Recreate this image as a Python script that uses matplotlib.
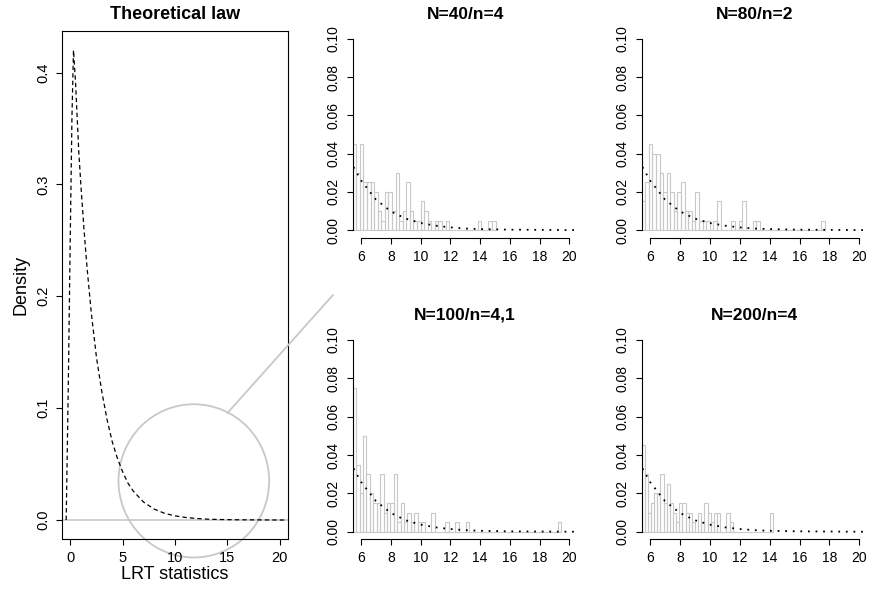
import numpy as np
import matplotlib
matplotlib.use("Agg")
import matplotlib.pyplot as plt
from matplotlib.patches import Ellipse, ConnectionPatch

plt.rcParams['font.family'] = ['Liberation Sans', 'DejaVu Sans']

# theoretical density
law_x = [-0.4, -0.2, 0.0, 0.15, 0.3, 0.5, 0.8, 1.0, 1.3, 1.6, 2.0, 2.5, 3.0, 3.5,
         4.0, 4.5, 5.0, 5.5, 6.0, 7.0, 8.0, 9.0, 10.0, 11.0, 12.0, 13.0, 14.0,
         16.0, 18.0, 20.0, 20.5]
law_y = [0.0, 0.12, 0.26, 0.36, 0.42, 0.39, 0.33, 0.30, 0.26, 0.225, 0.185, 0.145,
         0.115, 0.09, 0.07, 0.055, 0.043, 0.033, 0.026, 0.016, 0.0098, 0.006,
         0.0037, 0.0023, 0.0014, 0.0008, 0.0005, 0.0002, 0.0001, 0.0, 0.0]

# simulated LRT histograms (density per bin, bins start at 5.44)
titles = ["N=40/n=4", "N=80/n=2", "N=100/n=4,1", "N=200/n=4"]
bin_width = [0.24, 0.24, 0.23, 0.21]
h_n40 = [0.045, 0.03, 0.045, 0.025, 0.025, 0.025, 0.02, 0.01, 0.005, 0.02,
         0.02, 0.01, 0.03, 0.005, 0.01, 0.025, 0.01, 0.005, 0.005, 0.015,
         0.01, 0.005, 0.0, 0.005, 0.005, 0.0, 0.005, 0.0, 0.0, 0.0,
         0.0, 0.0, 0.0, 0.0, 0.0, 0.005, 0.0, 0.0, 0.005, 0.005]
h_n80 = [0.015, 0.025, 0.045, 0.04, 0.04, 0.03, 0.02, 0.03, 0.02, 0.01,
         0.02, 0.025, 0.01, 0.01, 0.005, 0.02, 0.005, 0.005, 0.005, 0.0,
         0.005, 0.015, 0.0, 0.0, 0.0, 0.005, 0.0, 0.005, 0.015, 0.0,
         0.0, 0.005, 0.005, 0.0, 0.0, 0.0, 0.0, 0.0, 0.0, 0.0,
         0.0, 0.0, 0.0, 0.0, 0.0, 0.0, 0.0, 0.0, 0.0, 0.0, 0.005]
h_n100 = [0.075, 0.035, 0.02, 0.05, 0.03, 0.02, 0.015, 0.015, 0.03, 0.01,
          0.015, 0.015, 0.03, 0.005, 0.015, 0.005, 0.01, 0.005, 0.01, 0.005,
          0.005, 0.0, 0.0, 0.01, 0.0, 0.0, 0.0, 0.005, 0.0, 0.0,
          0.005, 0.0, 0.0, 0.005, 0.0, 0.0, 0.0, 0.0, 0.0, 0.0,
          0.0, 0.0, 0.0, 0.0, 0.0, 0.0, 0.0, 0.0, 0.0, 0.0,
          0.0, 0.0, 0.0, 0.0, 0.0, 0.0, 0.0, 0.0, 0.0, 0.0, 0.005]
h_n200 = [0.045, 0.03, 0.01, 0.015, 0.02, 0.02, 0.03, 0.015, 0.025, 0.015,
          0.01, 0.005, 0.015, 0.015, 0.01, 0.01, 0.005, 0.0, 0.01, 0.005,
          0.015, 0.01, 0.005, 0.01, 0.01, 0.0, 0.0, 0.01, 0.005, 0.0,
          0.0, 0.0, 0.0, 0.0, 0.0, 0.0, 0.0, 0.0, 0.0, 0.0, 0.0, 0.01]
heights = [h_n40, h_n80, h_n100, h_n200]
bin_start = 5.44

GRAY = '#c8c8c8'
W, H = 869, 589


def box(l, r, t, b):
    return [l / W, 1 - b / H, (r - l) / W, (b - t) / H]


def r_ticks(ax, size):
    ax.tick_params(direction='out', length=4.5, width=0.8, labelsize=size, pad=4)
    for lab in ax.get_yticklabels():
        lab.set_rotation(90)
        lab.set_va('center')


fig = plt.figure(figsize=(W / 100, H / 100), dpi=100)

# left panel: theoretical law
ax0 = fig.add_axes(box(62, 288, 31.4, 538.8))
ax0.axhline(0, color=GRAY, lw=1.2)
ax0.plot(law_x, law_y, color='black', lw=0.9, dashes=(3.5, 2.5))
ax0.set_xlim(-0.8, 20.8)
ax0.set_ylim(-0.0168, 0.4368)
ax0.set_xticks([0, 5, 10, 15, 20])
ax0.set_yticks([0.0, 0.1, 0.2, 0.3, 0.4])
ax0.set_yticklabels(['0.0', '0.1', '0.2', '0.3', '0.4'])
r_ticks(ax0, 10.5)
for s in ax0.spines.values():
    s.set_linewidth(0.8)
ax0.set_xlabel("LRT statistics", fontsize=13, labelpad=1)
ax0.set_ylabel("Density", fontsize=13, labelpad=5)
ax0.set_title("Theoretical law", fontsize=13, fontweight='bold', pad=9)

zoom = Ellipse((11.8, 0.035), 14.4, 0.137, fill=False, edgecolor=GRAY, lw=1.3,
               clip_on=False)
ax0.add_patch(zoom)
link = ConnectionPatch(xyA=(15.0, 0.0955), coordsA='data', axesA=ax0,
                       xyB=(333 / W, 1 - 295 / H), coordsB='figure fraction',
                       color=GRAY, lw=1.3)
fig.add_artist(link)

# histogram panels
rects = [box(352.7, 577.7, 31.4, 237.7), box(641.6, 867.7, 31.4, 237.7),
         box(352.7, 577.7, 332.3, 539.4), box(641.6, 867.7, 332.3, 539.4)]
lx = np.array(law_x)
ly = np.array(law_y)
keep = lx >= 5.5
for i in range(4):
    ax = fig.add_axes(rects[i])
    h = heights[i]
    edges = bin_start + bin_width[i] * np.arange(len(h))
    ax.bar(edges, h, width=bin_width[i], align='edge', facecolor='none',
           edgecolor=GRAY, lw=0.8)
    ax.plot(lx[keep], ly[keep], color='black', lw=1.3, linestyle=(0, (1, 3.2)))
    ax.set_xlim(5.44, 20.56)
    ax.set_ylim(-0.004, 0.104)
    ax.set_xticks(np.arange(6, 21, 2))
    ax.set_yticks([0.0, 0.02, 0.04, 0.06, 0.08, 0.10])
    ax.set_yticklabels(['0.00', '0.02', '0.04', '0.06', '0.08', '0.10'])
    for s in ['top', 'right']:
        ax.spines[s].set_visible(False)
    ax.spines['left'].set_bounds(0, 0.1)
    ax.spines['bottom'].set_bounds(6, 20)
    ax.spines['left'].set_linewidth(0.8)
    ax.spines['bottom'].set_linewidth(0.8)
    r_ticks(ax, 10)
    ax.set_title(titles[i], fontsize=12.5, fontweight='bold', pad=9)

fig.savefig("out.png", dpi=100)
